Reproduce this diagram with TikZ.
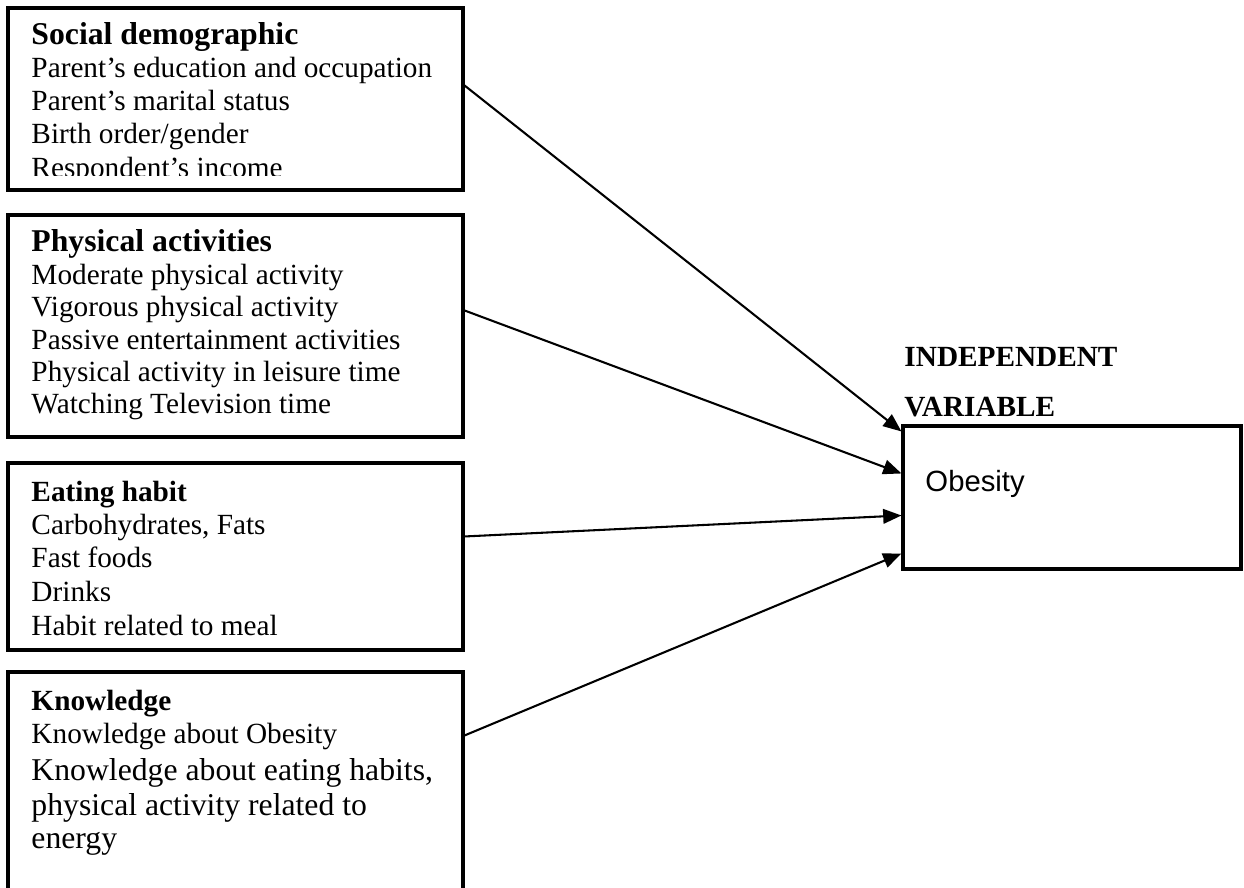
\documentclass[tikz,border=0pt]{standalone}
\usepackage{fontspec}
\setmainfont{Liberation Serif}
\newfontfamily\arialf{Liberation Sans}
\usetikzlibrary{arrows.meta,calc,fit}
\begin{document}
\begin{tikzpicture}[x=0.41pt,y=-0.41pt,
  box/.style={draw=black,line width=1.25pt,inner sep=0pt,rectangle},
  txt/.style={anchor=base west,inner sep=0pt,font=\fontsize{12}{13.5}\selectfont},
  bigtxt/.style={anchor=base west,inner sep=0pt,font=\fontsize{13}{15}\selectfont},
  head/.style={anchor=base west,inner sep=0pt,font=\fontsize{13}{15}\selectfont\bfseries},
  rhead/.style={anchor=base west,inner sep=0pt,font=\fontsize{12}{13.5}\selectfont\bfseries},
  arr/.style={line width=0.85pt,-{Triangle[length=7.5pt,width=6pt]}}]
\clip (0,0) rectangle (1244,888);
\fill[white] (0,0) rectangle (1244,888);
% boxes
\node[box,fit={(8,8) (463,190)}] (b1) {};
\node[box,fit={(8,215) (463,437)}] (b2) {};
\node[box,fit={(8,463) (463,650)}] (b3) {};
\node[box,fit={(8,672) (463,910)}] (b4) {};
\node[box,fit={(903,426) (1241,569)}] (ob) {};
% box 1 text (clipped at bottom as in the reference)
\begin{scope}
\clip (8,8) rectangle (463,176);
\node[head] (t11) at (31,45) {Social demographic};
\node[txt] (t12) at (31,78) {Parent’s education and occupation};
\node[txt] (t13) at (31,111) {Parent’s marital status};
\node[txt] (t14) at (31,144) {Birth order/gender};
\node[txt] (t15) at (31,178) {Respondent’s income};
\end{scope}
% box 2 text
\node[head] (t21) at (31,252) {Physical activities};
\node[txt] (t22) at (31,285) {Moderate physical activity};
\node[txt] (t23) at (31,317) {Vigorous physical activity};
\node[txt] (t24) at (31,350) {Passive entertainment activities};
\node[txt] (t25) at (31,382) {Physical activity in leisure time};
\node[txt] (t26) at (31,414) {Watching Television time};
% box 3 text
\node[rhead] (t31) at (31,502) {Eating habit};
\node[txt] (t32) at (31,535) {Carbohydrates, Fats};
\node[txt] (t33) at (31,568) {Fast foods};
\node[txt] (t34) at (31,602) {Drinks};
\node[txt] (t35) at (31,636) {Habit related to meal};
% box 4 text
\node[rhead] (t41) at (31,710) {Knowledge};
\node[txt] (t42) at (31,743) {Knowledge about Obesity};
\node[bigtxt] (t43) at (31,780) {Knowledge about eating habits,};
\node[bigtxt] (t44) at (31,815) {physical activity related to};
\node[bigtxt] (t45) at (31,848) {energy};
% right side
\node[rhead] (h1) at (904,367) {INDEPENDENT};
\node[rhead] (h2) at (904,417) {VARIABLE};
\node[anchor=base west,inner sep=0pt,font=\arialf\fontsize{12}{13.5}\selectfont] (obt) at (925,492) {Obesity};
% connectors
\draw[arr] ($(b1.north east)+(0,79)$) -- ($(ob.north west)+(0,7)$);
\draw[arr] ($(b2.north east)+(0,97)$) -- ($(ob.north west)+(0,49)$);
\draw[arr] ($(b3.north east)+(0,75)$) -- ($(ob.north west)+(0,91)$);
\draw[arr] ($(b4.north east)+(0,65)$) -- ($(ob.north west)+(0,129)$);
\end{tikzpicture}
\end{document}
